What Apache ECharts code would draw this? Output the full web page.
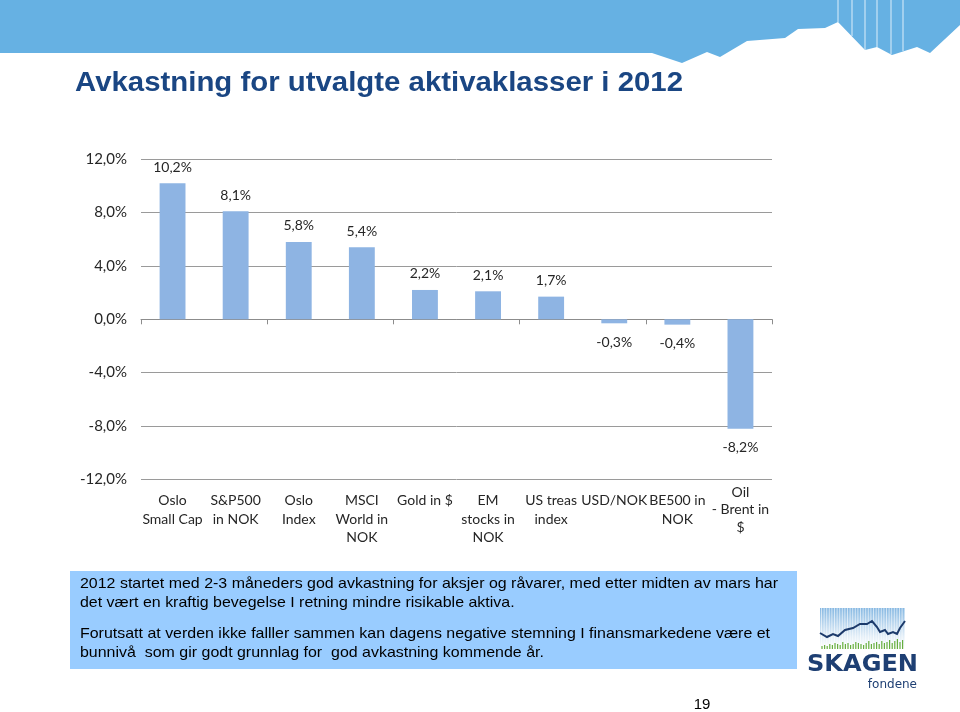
<!DOCTYPE html>
<html><head><meta charset="utf-8">
<script src="https://cdn.jsdelivr.net/npm/echarts@6/dist/echarts.min.js"></script>
<style>html,body{margin:0;padding:0;background:#fff}#c{width:960px;height:712px}</style>
</head><body><div id="c"></div>
<script>
// ---- data ----
const titleText = 'Avkastning for utvalgte aktivaklasser i 2012';
const categories = ['Oslo\nSmall Cap', 'S&P500\nin NOK', 'Oslo\nIndex', 'MSCI\nWorld in\nNOK', 'Gold in $',
  'EM\nstocks in\nNOK', 'US treas\nindex', 'USD/NOK', 'BE500 in\nNOK', 'Oil\n- Brent in\n$'];
const values = [10.2, 8.1, 5.8, 5.4, 2.2, 2.1, 1.7, -0.3, -0.4, -8.2];
const yMin = -12, yMax = 12, yStep = 4;
const bodyLines = [
  '2012 startet med 2-3 måneders god avkastning for aksjer og råvarer, med etter midten av mars har',
  'det vært en kraftig bevegelse I retning mindre risikable aktiva.',
  'Forutsatt at verden ikke falller sammen kan dagens negative stemning I finansmarkedene være et',
  'bunnivå  som gir godt grunnlag for  god avkastning kommende år.'
];
const logoName = 'SKAGEN';
const logoSub = 'fondene';
const pageNumber = '19';

// ---- helpers ----
const ctx = document.createElement('canvas').getContext('2d');
function measure(font, text) { ctx.font = font; return ctx.measureText(text).width; }
const pct = v => v.toFixed(1).replace('.', ',') + '%';

const titleFont = 'bold 28px "Liberation Sans Narrow", "Liberation Sans", Arial, sans-serif';
const titleScale = 608 / measure(titleFont, titleText);
const bodyFont = '15px "Liberation Sans", Arial, sans-serif';
const bodyScale = 698 / measure(bodyFont, bodyLines[0]);
const logoFont = 'bold 23px "DejaVu Sans", sans-serif';
const logoScale = 111 / measure(logoFont, logoName);

const graphics = [];
// banner
graphics.push({ type: 'polygon', z: 0, shape: { points: [[0,0],[960,0],[960,25],[930,53],[917,47],[892,55],[877,47],[865,50],[838,22],[825,28],[798,29],[785,38],[747,41],[720,57],[707,52],[682,63],[652,53],[0,53]] },
  style: { fill: '#66B1E3' } });
[[838,22],[852,36],[865,50],[877,47],[891,54],[903,51]].forEach(p => {
  graphics.push({ type: 'line', z: 1, shape: { x1: p[0], y1: 0, x2: p[0], y2: p[1] }, style: { stroke: '#DDEEFA', lineWidth: 1 } });
});
// title
graphics.push({ type: 'text', x: 75, y: 83, scaleX: titleScale, style: { text: titleText, font: titleFont, fill: '#1A4683', textVerticalAlign: 'middle' } });
// text box
graphics.push({ type: 'rect', shape: { x: 70, y: 571, width: 727, height: 98 }, style: { fill: '#99CCFF' } });
const lineYs = [584, 603, 634, 653];
bodyLines.forEach((t, i) => {
  graphics.push({ type: 'text', x: 80, y: lineYs[i], scaleX: bodyScale, style: { text: t, font: bodyFont, fill: '#000', textVerticalAlign: 'middle' } });
});
// logo
graphics.push({ type: 'rect', shape: { x: 820, y: 608, width: 85, height: 41 },
  style: { fill: new echarts.graphic.LinearGradient(0, 0, 0, 1, [{ offset: 0, color: '#86B8E2' }, { offset: 0.7, color: '#E4EFF8' }, { offset: 1, color: '#FFFFFF' }]) } });
for (let x = 821.5; x < 905; x += 2.6) {
  graphics.push({ type: 'line', shape: { x1: x, y1: 608, x2: x, y2: 649 }, style: { stroke: 'rgba(255,255,255,0.75)', lineWidth: 0.8 } });
}
const greenH = [3,4,3,5,4,6,5,4,7,5,6,4,5,7,6,5,4,6,8,5,6,7,5,8,6,7,9,6,8,10,7,9];
greenH.forEach((h, i) => {
  const x = 822 + i * 2.6;
  graphics.push({ type: 'line', shape: { x1: x, y1: 649, x2: x, y2: 649 - h }, style: { stroke: '#66AE3E', lineWidth: 1.2 } });
});
graphics.push({ type: 'polyline', shape: { points: [[820,633],[827,637],[833,634],[838,636],[845,630],[853,628],[860,624],[867,624],[872,621],[877,627],[880,632],[885,630],[888,634],[893,632],[897,634],[900,628],[905,621]] },
  style: { stroke: '#1C3A6B', lineWidth: 2, fill: null } });
graphics.push({ type: 'text', x: 807, y: 665, scaleX: logoScale, style: { text: logoName, font: logoFont, fill: '#1E3F73', textVerticalAlign: 'middle' } });
graphics.push({ type: 'text', x: 917, y: 685, style: { text: logoSub, font: '12px "DejaVu Sans", sans-serif', fill: '#1E3F73', textAlign: 'right', textVerticalAlign: 'middle' } });
// page number
graphics.push({ type: 'text', x: 702, y: 705, style: { text: pageNumber, font: '15px "Liberation Sans Narrow", "Liberation Sans", Arial, sans-serif', fill: '#000', textAlign: 'center', textVerticalAlign: 'middle' } });

const labelFont = 'Lato, "Open Sans", sans-serif';
const bottomCats = categories.map((c, i) => i === categories.length - 1
  ? { value: c, textStyle: { padding: [-8, 0, 0, 0], lineHeight: 17.5 } } : c);
const chart = echarts.init(document.getElementById('c'), null, { renderer: 'canvas' });
chart.setOption({
  animation: false,
  backgroundColor: '#fff',
  graphic: graphics,
  grid: { left: 141, right: 188, top: 159.3, bottom: 232.7, containLabel: false },
  xAxis: [
    { type: 'category', data: categories, position: 'top', axisLine: { onZero: true, lineStyle: { color: '#8C8C8C', width: 1 } },
      axisTick: { show: true, inside: true, length: 5, lineStyle: { color: '#8C8C8C' } }, axisLabel: { show: false }, splitLine: { show: false } },
    { type: 'category', data: bottomCats, position: 'bottom', axisLine: { show: false, onZero: false }, axisTick: { show: false },
      axisLabel: { show: true, interval: 0, margin: 12, color: '#262626', fontFamily: labelFont, fontSize: 14, lineHeight: 18.5, verticalAlign: 'top' } }
  ],
  yAxis: {
    type: 'value', min: yMin, max: yMax, interval: yStep,
    axisLine: { show: false }, axisTick: { show: false },
    axisLabel: { formatter: v => pct(v), color: '#262626', fontFamily: labelFont, fontSize: 15, margin: 14 },
    splitLine: { lineStyle: { color: '#9A9A9A', width: 1 } }
  },
  series: [{
    type: 'bar', xAxisIndex: 0, barWidth: '41%',
    itemStyle: { color: '#8EB4E3' },
    data: values.map(v => ({ value: v, label: { position: v >= 0 ? 'top' : 'bottom', distance: v >= 0 ? 9 : 12 } })),
    label: { show: true, formatter: p => pct(p.value), color: '#262626', fontFamily: labelFont, fontSize: 14 }
  }]
});
</script></body></html>
